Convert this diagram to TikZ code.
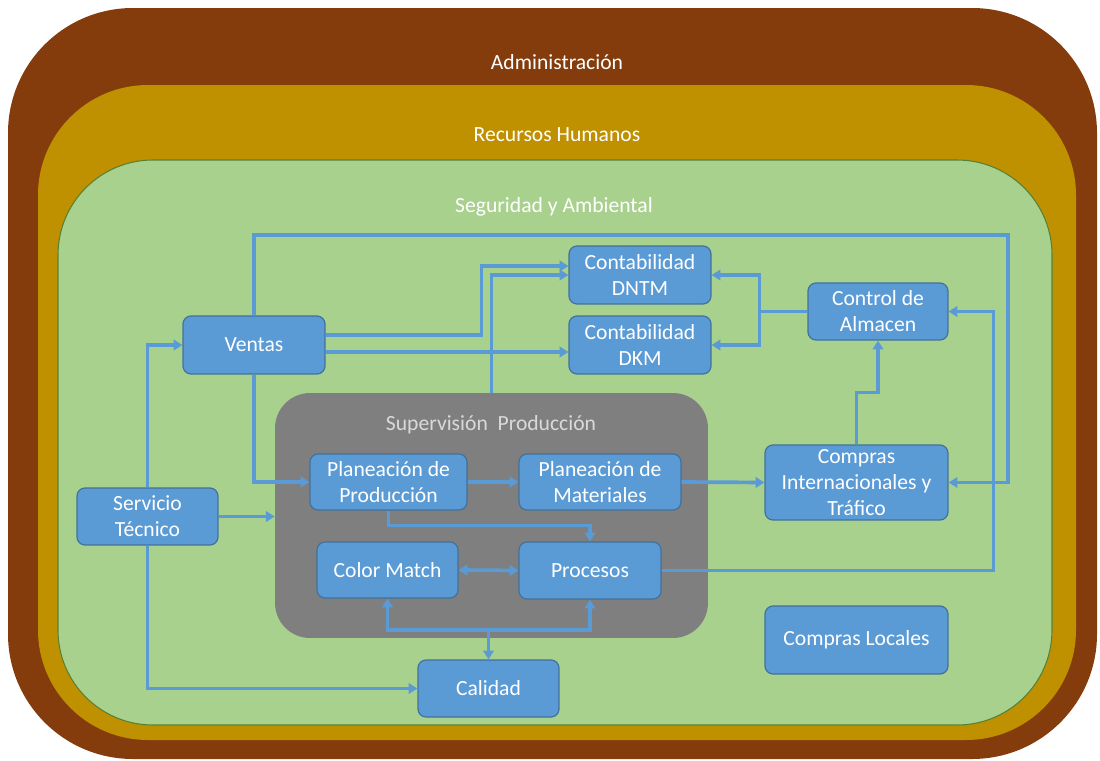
\documentclass[tikz,border=0pt]{standalone}
\usepackage{fontspec}
\setmainfont{Carlito}
\usetikzlibrary{arrows.meta}

\definecolor{adm}{HTML}{843C0C}
\definecolor{rrhh}{HTML}{BF9000}
\definecolor{seg}{HTML}{A9D18E}
\definecolor{segedge}{HTML}{548235}
\definecolor{supgray}{HTML}{7F7F7F}
\definecolor{boxblue}{HTML}{5B9BD5}
\definecolor{boxedge}{HTML}{41719C}

\tikzset{
  box/.style={rounded corners=0.16cm, fill=boxblue, draw=boxedge, line width=0.7pt,
    text=white, align=center, inner sep=0pt, font=\fontsize{12.3}{14.8}\selectfont},
  title/.style={font=\fontsize{12.3}{14.8}\selectfont},
  conn/.style={draw=boxblue, line width=2.1pt, -{Triangle[length=5pt,width=6pt]}},
}

\begin{document}
\begin{tikzpicture}[x=0.02cm, y=-0.02cm]
  \useasboundingbox (0,0) rectangle (1100,761);

  % capas
  \fill[adm, rounded corners=2.5cm] (8,8) rectangle (1097,759);
  \fill[rrhh, rounded corners=2.2cm] (38,85) rectangle (1076,740);
  \filldraw[fill=seg, draw=segedge, line width=0.6pt, rounded corners=1.9cm] (58,160) rectangle (1052,725);
  \node[title, text=white] (tadm) at (557,62) {Administración};
  \node[title, text=white] (trh) at (557,135) {Recursos Humanos};
  \node[title, text=white] (tseg) at (554,207) {Seguridad y Ambiental};

  % supervision produccion
  \node[fill=supgray, rounded corners=0.7cm, minimum width=8.66cm, minimum height=4.9cm] (sup) at (491.5,515.5) {};
  \node[title, text=black!15] (tsup) at (491,425) {Supervisión\ \ Producción};

  % cajas
  \node[box, minimum width=2.84cm, minimum height=1.16cm] (dntm) at (640,275) {Contabilidad\\DNTM};
  \node[box, minimum width=2.84cm, minimum height=1.16cm] (dkm) at (640,345) {Contabilidad\\DKM};
  \node[box, minimum width=2.84cm, minimum height=1.16cm] (ventas) at (254,345) {Ventas};
  \node[box, minimum width=2.8cm, minimum height=1.14cm] (almacen) at (878,311.5) {Control de\\Almacen};
  \node[box, minimum width=3.66cm, minimum height=1.5cm] (comprasint) at (856.5,482.5) {Compras\\Internacionales y\\Tráfico};
  \node[box, minimum width=3.66cm, minimum height=1.36cm] (comprasloc) at (856.5,640) {Compras Locales};
  \node[box, minimum width=3.14cm, minimum height=1.12cm] (planprod) at (388.5,482) {Planeación de\\Producción};
  \node[box, minimum width=3.24cm, minimum height=1.12cm] (planmat) at (600,482) {Planeación de\\Materiales};
  \node[box, minimum width=2.82cm, minimum height=1.12cm] (colormatch) at (387.5,570) {Color Match};
  \node[box, minimum width=2.84cm, minimum height=1.14cm] (procesos) at (590,570.5) {Procesos};
  \node[box, minimum width=2.82cm, minimum height=1.14cm] (servicio) at (147.5,516.5) {Servicio\\Técnico};
  \node[box, minimum width=2.82cm, minimum height=1.14cm] (calidad) at (488.5,688.5) {Calidad};

  % ventas
  \draw[conn] (ventas.north) |- (1008,235) |- (comprasint.east);
  \draw[conn] ([yshift=0.2cm]ventas.east) -- ++(156,0) |- ([yshift=0.18cm]dntm.west);
  \draw[conn] ([yshift=-0.14cm]ventas.east) -- ([yshift=-0.14cm]ventas.east -| dkm.west);
  \draw[conn] (ventas.south) |- (planprod.west);
  \draw[conn] (sup.north) |- (dntm.west);

  % servicio tecnico
  \draw[conn] (servicio.north) |- (ventas.west);
  \draw[conn] (servicio.south) |- (calidad.west);
  \draw[conn] (servicio.east) -- (servicio.east -| sup.west);

  % almacen
  \draw[draw=boxblue, line width=2.1pt] (almacen.west) -- ++(-48,0) coordinate (alm);
  \draw[conn] (alm) |- (dntm.east);
  \draw[conn] (alm) |- (dkm.east);
  \draw[conn] (comprasint.north) -- ++(0,-52) -| (almacen.south);
  \draw[conn] (procesos.east) -| ([xshift=0.9cm]almacen.east) -- (almacen.east);

  % produccion
  \draw[conn] (planprod.east) -- (planmat.west);
  \draw[conn] (planmat.east) -- (comprasint.west);
  \draw[conn] (planprod.south) -- ++(0,15) -| (procesos.north);
  \draw[conn, {Triangle[length=5pt,width=6pt]}-{Triangle[length=5pt,width=6pt]}] (colormatch.east) -- (procesos.west);

  % calidad
  \coordinate (qc) at (488.5,630);
  \draw[conn] (qc) -| (colormatch.south);
  \draw[conn] (qc) -| (procesos.south);
  \draw[conn] (qc) -- (calidad.north);
\end{tikzpicture}
\end{document}
